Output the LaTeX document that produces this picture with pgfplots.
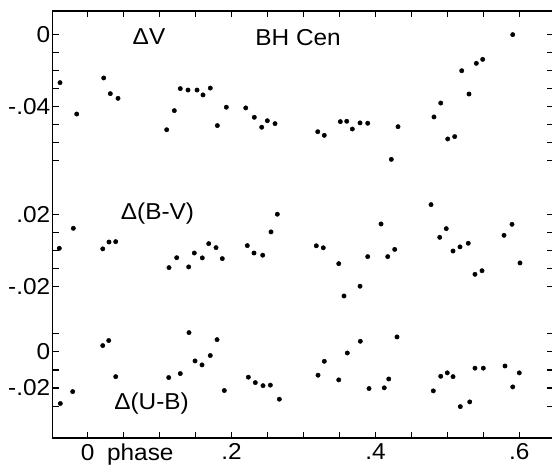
\documentclass[border=0pt]{standalone}
\usepackage{fontspec}
\setmainfont[FakeStretch=1.06]{Liberation Sans}
\usepackage{pgfplots}
\usepackage{pgfplotstable}
\pgfplotsset{compat=1.18}

\pgfplotstableread{
p v
-0.0385 -0.0268
-0.0153 -0.0442
0.0222 -0.0242
0.0314 -0.0329
0.0421 -0.0355
0.1098 -0.0529
0.1204 -0.0423
0.1287 -0.0301
0.1394 -0.0309
0.1520 -0.0309
0.1603 -0.0336
0.1704 -0.0298
0.1802 -0.0506
0.1927 -0.0404
0.2197 -0.0408
0.2316 -0.0460
0.2419 -0.0515
0.2497 -0.0479
0.2604 -0.0495
0.3198 -0.0540
0.3289 -0.0560
0.3512 -0.0484
0.3601 -0.0482
0.3679 -0.0525
0.3786 -0.0491
0.3893 -0.0493
0.4221 -0.0693
0.4314 -0.0512
0.4814 -0.0458
0.4908 -0.0381
0.5005 -0.0580
0.5102 -0.0567
0.5200 -0.0202
0.5301 -0.0331
0.5403 -0.0161
0.5491 -0.0139
0.5909 -0.0002
}\dV

\pgfplotstableread{
p v
-0.0395 0.0014
-0.0200 0.0125
0.0209 0.0011
0.0296 0.0049
0.0389 0.0051
0.1130 -0.0093
0.1237 -0.0038
0.1404 -0.0089
0.1482 -0.0012
0.1593 -0.0039
0.1682 0.0040
0.1784 0.0018
0.1871 -0.0043
0.2219 0.0029
0.2312 -0.0012
0.2433 -0.0024
0.2548 0.0105
0.2636 0.0203
0.3178 0.0028
0.3275 0.0017
0.3490 -0.0071
0.3563 -0.0250
0.3786 -0.0196
0.3893 -0.0032
0.4078 0.0149
0.4171 -0.0032
0.4268 0.0008
0.4773 0.0256
0.4894 0.0075
0.4985 0.0123
0.5079 -0.0001
0.5176 0.0022
0.5291 0.0042
0.5384 -0.0130
0.5482 -0.0110
0.5788 0.0086
0.5899 0.0147
0.6010 -0.0067
}\dBV

\pgfplotstableread{
p v
-0.0381 -0.0286
-0.0209 -0.0220
0.0209 0.0035
0.0292 0.0063
0.0389 -0.0137
0.1126 -0.0142
0.1287 -0.0120
0.1408 0.0107
0.1492 -0.0050
0.1589 -0.0072
0.1704 -0.0020
0.1798 0.0068
0.1899 -0.0214
0.2233 -0.0140
0.2330 -0.0170
0.2437 -0.0187
0.2539 -0.0184
0.2664 -0.0262
0.3202 -0.0129
0.3289 -0.0052
0.3490 -0.0155
0.3609 -0.0006
0.3790 0.0059
0.3911 -0.0203
0.4123 -0.0199
0.4185 -0.0150
0.4300 0.0083
0.4805 -0.0216
0.4908 -0.0135
0.4999 -0.0116
0.5079 -0.0137
0.5180 -0.0303
0.5311 -0.0277
0.5384 -0.0090
0.5500 -0.0090
0.5802 -0.0078
0.5909 -0.0194
0.6000 -0.0116
}\dUB

\begin{document}
\begin{tikzpicture}
\path[use as bounding box] (-52.7bp,-34bp) rectangle (499.3bp,438bp);
\begin{axis}[
  at={(0,0)}, anchor=south west,
  scale only axis,
  width=500.3bp, height=427bp,
  xmin=-0.0487, xmax=0.6469,
  ymin=-0.2237, ymax=0.0129,
  axis line style={line width=1.4bp},
  tick style={line width=1.1bp, black},
  tick align=inside,
  major tick length=6bp,
  xtick={0,0.05,0.1,0.15,0.2,0.25,0.3,0.35,0.4,0.45,0.5,0.55,0.6},
  xticklabels={0\rlap{\hspace{0.55em}phase},,,,.2,,,,.4,,,,.6},
  ytick={-0.206,-0.196,-0.186,-0.176,-0.166,-0.14,-0.13,-0.12,-0.11,-0.10,-0.07,-0.06,-0.05,-0.04,-0.03,-0.02,-0.01,0},
  yticklabels={,-.02,,0,,-.02,,,,.02,,,,-.04,,,,0},
  ticklabel style={font=\fontsize{23bp}{26bp}\selectfont},
  xticklabel style={yshift=-2bp},
  yticklabel style={xshift=1bp},
  clip=false,
]
\addplot[only marks, mark=*, mark size=2.2bp, black] table[x=p, y=v] {\dV};
\addplot[only marks, mark=*, mark size=2.2bp, black] table[x=p, y expr=\thisrow{v}-0.12] {\dBV};
\addplot[only marks, mark=*, mark size=2.2bp, black] table[x=p, y expr=\thisrow{v}-0.176] {\dUB};
\node[font=\fontsize{23bp}{26bp}\selectfont] at (axis cs:0.0852,-0.0015) {ΔV};
\node[font=\fontsize{23bp}{26bp}\selectfont] at (axis cs:0.2925,-0.0020) {BH Cen};
\node[font=\fontsize{23bp}{26bp}\selectfont] at (axis cs:0.0970,-0.0993) {Δ(B-V)};
\node[font=\fontsize{23bp}{26bp}\selectfont] at (axis cs:0.0887,-0.2048) {Δ(U-B)};
\end{axis}
\end{tikzpicture}
\end{document}
